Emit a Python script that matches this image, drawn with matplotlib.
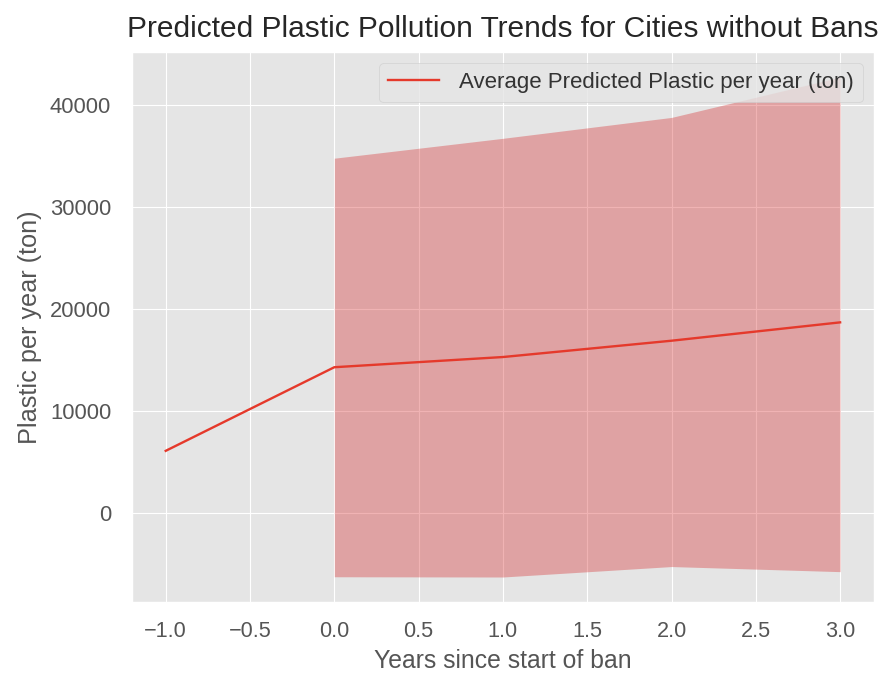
import matplotlib
matplotlib.use('Agg')
import matplotlib.pyplot as plt

plt.style.use('ggplot')
plt.rcParams['font.family'] = ['Liberation Sans', 'DejaVu Sans']

# predicted plastic per year (ton), years relative to ban start
years = [-1, 0, 1, 2, 3]
avg_plastic = [6100, 14300, 15300, 16900, 18700]

# prediction interval only exists from year 0 onward
band_years = [0, 1, 2, 3]
band_lower = [-6250, -6275, -5250, -5750]
band_upper = [34800, 36750, 38800, 42750]

fig = plt.figure(figsize=(8.80, 6.73), dpi=100)
ax = fig.add_axes([0.150, 0.1055, 0.843, 0.817])

ax.plot(years, avg_plastic, color='#E5392B', lw=1.7,
        label='Average Predicted Plastic per year (ton)')
ax.fill_between(band_years, band_lower, band_upper,
                color='tab:red', alpha=0.35, linewidth=0)

ax.set_title('Predicted Plastic Pollution Trends for Cities without Bans',
             fontsize=21.5, color='#262626', pad=11)
ax.set_xlabel('Years since start of ban', fontsize=17.8, color='#555555',
              labelpad=5)
ax.set_ylabel('Plastic per year (ton)', fontsize=18.2, color='#555555',
              labelpad=6)
ax.tick_params(axis='x', labelsize=15.6, colors='#555555', length=0, pad=14)
ax.tick_params(axis='y', labelsize=15.8, colors='#555555', length=0, pad=15)
leg = ax.legend(loc='upper right', fontsize=16, framealpha=0.8,
                handlelength=2.3, handletextpad=0.9)
for t in leg.get_texts():
    t.set_color('#333333')

fig.savefig('out.png', dpi=100)
